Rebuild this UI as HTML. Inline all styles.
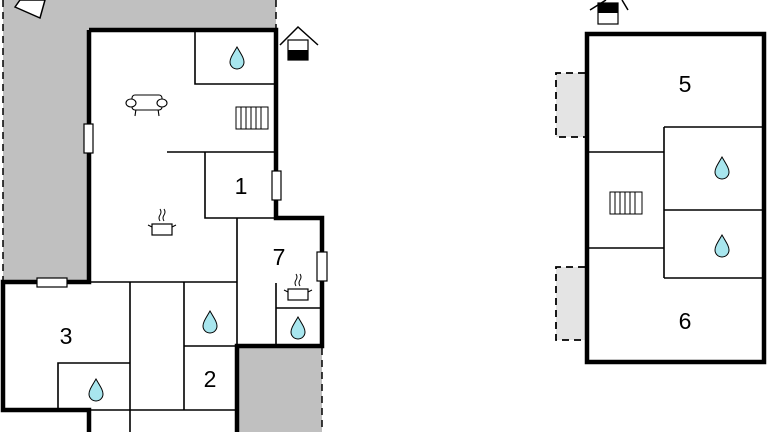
<!DOCTYPE html>
<html><head><style>body{margin:0;background:#fff}svg{display:block}text{font-family:"Liberation Sans",sans-serif;font-size:23px;fill:#000}</style></head><body>
<svg width="768" height="432" viewBox="0 0 768 432" xmlns="http://www.w3.org/2000/svg">
<defs>
<g id="drop"><path d="M0,-11 C4,-4 7,0 7,4 A7,7 0 0 1 -7,4 C-7,0 -4,-4 0,-11Z" fill="#a8e6ee" stroke="#000" stroke-width="1"/></g>
<g id="rad"><rect x="-16" y="-11" width="32" height="22" fill="#fff" stroke="#000" stroke-width="1"/><path d="M-11,-11V11M-6,-11V11M-1,-11V11M4,-11V11M9,-11V11" stroke="#000" stroke-width="1"/></g>
<g id="pot"><rect x="-10" y="-5" width="20" height="11" fill="#fff" stroke="#000" stroke-width="1.2"/><path d="M-14,-4l4,2M14,-4l-4,2M-2,-8q-2,-3 0,-6q2,-3 0,-6M2,-8q-2,-3 0,-6q2,-3 0,-6" stroke="#000" fill="none" stroke-width="1"/></g>
</defs>
<path d="M3,0H276V30H89V282H3Z" fill="#c0c0c0"/>
<rect x="239" y="348" width="83" height="84" fill="#c0c0c0"/>
<g stroke="#000" stroke-width="1.5" stroke-dasharray="7,5" fill="none">
<path d="M3,0V282M276,0V30M322,348V432"/>
</g>
<polygon points="15,7 40,18 45,0 20,0" fill="#fff" stroke="#000" stroke-width="1.5"/>
<path d="M89,30H276V218H322V346H237V432H89V410H3V282H89Z" fill="#fff"/>
<path d="M89,30H276V218H322V346H237V432M89,432V410H3V282H89V30" fill="none" stroke="#000" stroke-width="4.5"/>
<g stroke="#000" stroke-width="1.6" fill="none">
<path d="M195,30V84H276M167,152H276M205,152V218H276M237,218V346M276,283V346M276,308H322M89,282H237M130,282V432M184,282V410M184,346H237M58,410V363H130M89,410H237"/>
</g>
<g fill="#fff" stroke="#000" stroke-width="1.2">
<rect x="84" y="124" width="9" height="29"/>
<rect x="272" y="171" width="9" height="29"/>
<rect x="317" y="252" width="10" height="29"/>
<rect x="37" y="278" width="30" height="9"/>
</g>
<use href="#drop" x="237" y="58"/>
<use href="#drop" x="210" y="322"/>
<use href="#drop" x="96" y="390"/>
<use href="#drop" x="298" y="328"/>
<use href="#rad" x="252" y="118"/>
<use href="#pot" x="162" y="229"/>
<use href="#pot" x="298" y="294"/>
<g stroke="#000" stroke-width="1.1" fill="#fff">
<path d="M136,109l-1,7M158,109l1,7"/>
<rect x="132" y="95" width="30" height="15" rx="3"/>
<ellipse cx="131" cy="103" rx="5" ry="4"/><ellipse cx="162" cy="103" rx="5" ry="4"/>
</g>
<g stroke="#000" stroke-width="1.5" fill="none"><path d="M280,45L298,27L318,45"/></g>
<rect x="288" y="40" width="20" height="20" fill="#fff" stroke="#000" stroke-width="1.2"/>
<rect x="288" y="50" width="20" height="10" fill="#000"/>
<text x="241" y="194" text-anchor="middle">1</text>
<text x="279" y="265" text-anchor="middle">7</text>
<text x="66" y="344" text-anchor="middle">3</text>
<text x="210" y="387" text-anchor="middle">2</text>
<g fill="#e4e4e4" stroke="#000" stroke-width="1.8" stroke-dasharray="7,5">
<path d="M585,73H556V137H585"/><path d="M585,267H556V340H585"/>
</g>
<rect x="587" y="34" width="177" height="328" fill="#fff" stroke="#000" stroke-width="4.5"/>
<g stroke="#000" stroke-width="1.6" fill="none">
<path d="M587,152H664M664,127V278M664,127H764M664,210H764M587,248H664M664,278H764"/>
</g>
<use href="#drop" x="722" y="168"/>
<use href="#drop" x="722" y="246"/>
<use href="#rad" x="626" y="203"/>
<g stroke="#000" stroke-width="1.5" fill="none"><path d="M590,10L606,0M622,0L628,10"/></g>
<rect x="598" y="3" width="20" height="21" fill="#fff" stroke="#000" stroke-width="1.2"/>
<rect x="598" y="3" width="20" height="10" fill="#000"/>
<text x="685" y="92" text-anchor="middle">5</text>
<text x="685" y="329" text-anchor="middle">6</text>
</svg>
</body></html>
